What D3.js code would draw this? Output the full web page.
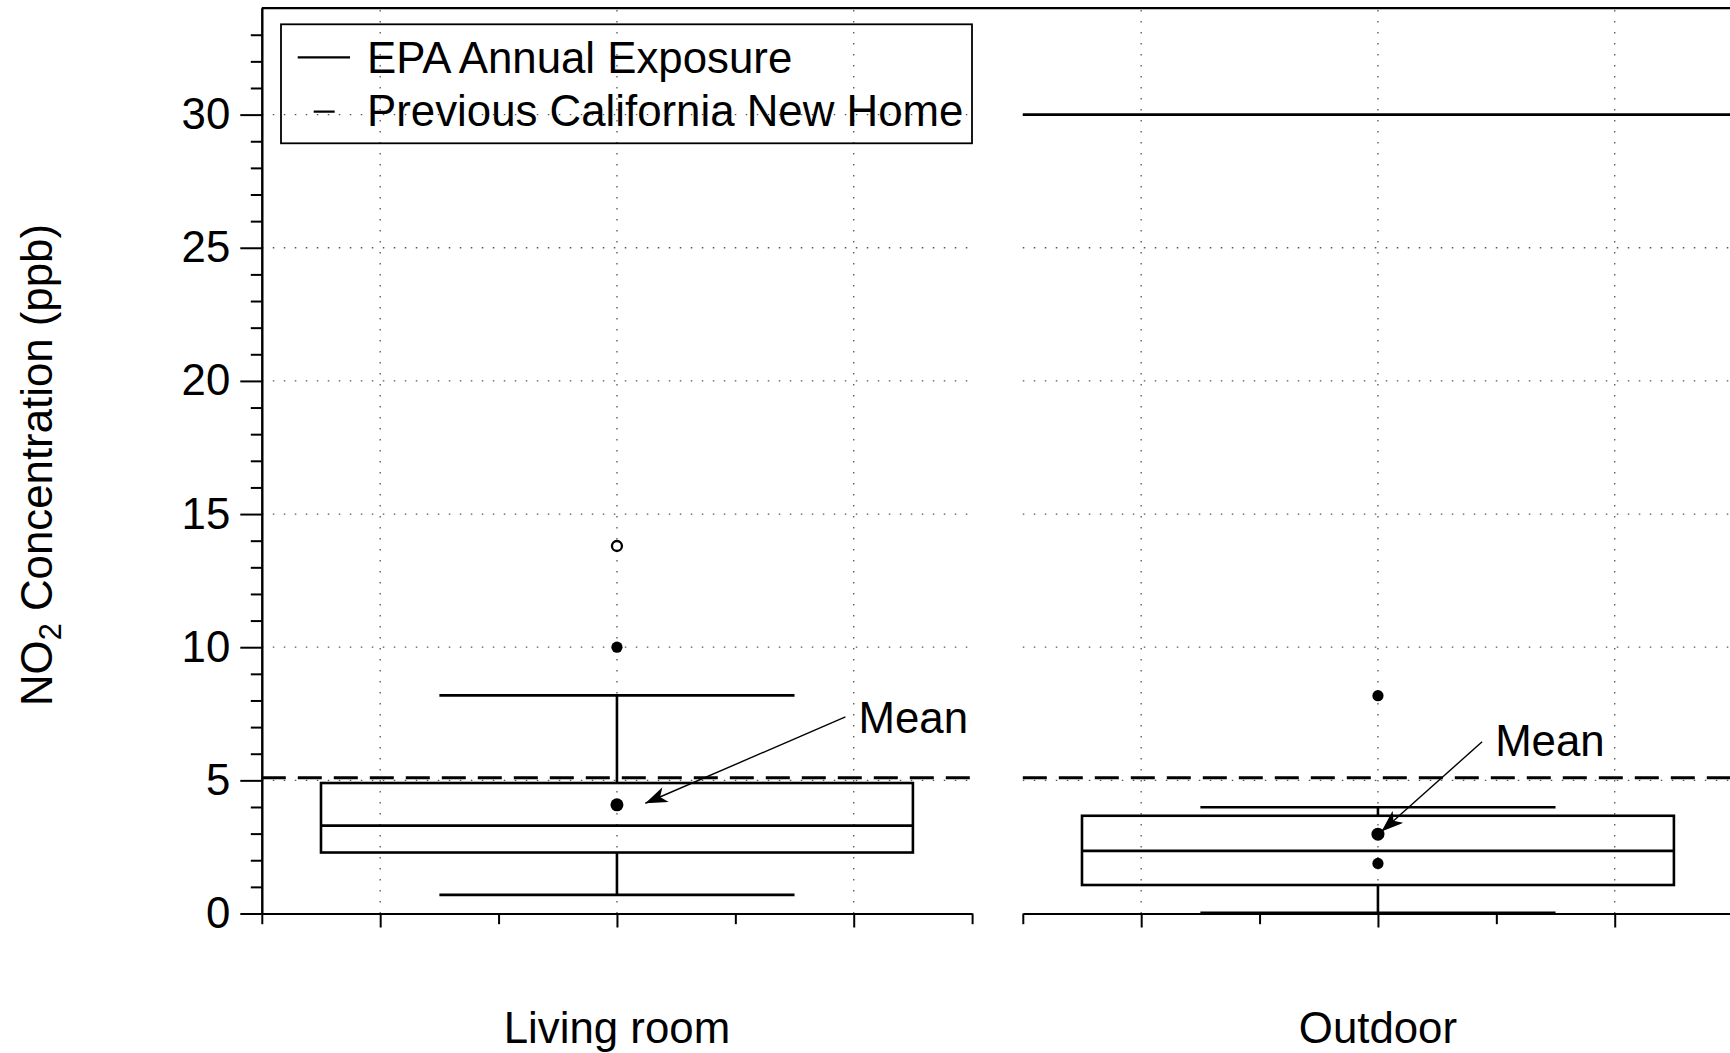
<!DOCTYPE html>
<html>
<head>
<meta charset="utf-8">
<script src="https://cdn.jsdelivr.net/npm/d3@7"></script>
<style>
  html, body { margin: 0; padding: 0; background: #fff; }
  svg { display: block; }
  text { font-family: "Liberation Sans", Arial, Helvetica, sans-serif; fill: #000; }
</style>
</head>
<body>
<svg id="chart" width="1730" height="1053"></svg>
<script>
// ---------------- data ----------------
const categories   = ["Living room", "Outdoor"];
const q1           = [2.29, 1.07];
const medians      = [3.30, 2.35];
const q3           = [4.90, 3.67];
const whiskerLow   = [0.70, 0.03];
const whiskerHigh  = [8.19, 3.99];
const means        = [4.08, 2.98];
const filledPoints = [[0, 10.0], [1, 8.18], [1, 1.88]];   // [category index, value]
const openPoints   = [[0, 13.8]];
const epaAnnual    = 30;    // drawn in Outdoor panel
const caNewHome    = 5.1;
const yMajorTicks  = [0, 5, 10, 15, 20, 25, 30];
const yMinorTicks  = d3.range(0, 34).filter(v => v % 5 !== 0);
const legendLabels = ["EPA Annual Exposure", "Previous California New Home"];
const annotations  = [
  { cat: 0, label: "Mean", tx: 5.04, ty: 6.77, x1: 4.93, y1: 7.38, x2: 3.24, y2: 4.14 },
  { cat: 1, label: "Mean", tx: 3.99, ty: 5.91, x1: 3.88, y1: 6.45, x2: 3.03, y2: 3.08 }
];

// ---------------- layout ----------------
const svg = d3.select("#chart");
const FS = 43.8;
const panelLeft = [261.8, 1022.8];
const panelWidth = 710.3;
const y = d3.scaleLinear().domain([0, 34]).range([913.5, 8.1]);
const xs = panelLeft.map(l => d3.scaleLinear().domain([0, 6]).range([l, l + panelWidth]));

const gridColor = "#555";
const grid = svg.append("g");
xs.forEach(x => {
  grid.selectAll(null).data(yMajorTicks.filter(v => v > 0)).join("line")
    .attr("x1", x(0)).attr("x2", x(6))
    .attr("y1", d => y(d)).attr("y2", d => y(d))
    .attr("stroke", gridColor).attr("stroke-width", 1.3)
    .attr("stroke-dasharray", "1.5 9.5");
  grid.selectAll(null).data([1, 3, 5]).join("line")
    .attr("x1", d => x(d)).attr("x2", d => x(d))
    .attr("y1", y(0)).attr("y2", y(34))
    .attr("stroke", gridColor).attr("stroke-width", 1.3)
    .attr("stroke-dasharray", "1.5 9.5");
});

// reference lines
xs.forEach(x => {
  svg.append("line")
    .attr("x1", x(0)).attr("x2", x(6))
    .attr("y1", y(caNewHome)).attr("y2", y(caNewHome))
    .attr("stroke", "#000").attr("stroke-width", 3)
    .attr("stroke-dasharray", "24 12");
});
svg.append("line")
  .attr("x1", xs[1](0)).attr("x2", xs[1](6))
  .attr("y1", y(epaAnnual)).attr("y2", y(epaAnnual))
  .attr("stroke", "#000").attr("stroke-width", 2.6);

// top frame
svg.append("line")
  .attr("x1", panelLeft[0]).attr("x2", 1730)
  .attr("y1", y(34)).attr("y2", y(34))
  .attr("stroke", "#000").attr("stroke-width", 2.2);

// axes
function styleAxis(g) {
  g.selectAll("path.domain").attr("stroke", "#000").attr("stroke-width", 2);
  g.selectAll(".tick line").attr("stroke", "#000").attr("stroke-width", 2);
  g.selectAll("text").attr("font-size", FS).attr("font-family", "Liberation Sans, Arial, sans-serif").attr("fill", "#000");
}
const yAxisMinor = svg.append("g").attr("transform", `translate(${panelLeft[0]},0)`)
  .call(d3.axisLeft(y).tickValues(yMinorTicks).tickSize(11).tickSizeOuter(0).tickFormat(""));
styleAxis(yAxisMinor);
const yAxisMajor = svg.append("g").attr("transform", `translate(${panelLeft[0]},0)`)
  .call(d3.axisLeft(y).tickValues(yMajorTicks).tickSize(21.5).tickPadding(10).tickSizeOuter(0).tickFormat(d3.format("d")));
styleAxis(yAxisMajor);

xs.forEach(x => {
  const gMinor = svg.append("g").attr("transform", `translate(0,${y(0)})`)
    .call(d3.axisBottom(x).tickValues([0, 2, 4, 6]).tickSize(10.7).tickSizeOuter(0).tickFormat(""));
  styleAxis(gMinor);
  const gMajor = svg.append("g").attr("transform", `translate(0,${y(0)})`)
    .call(d3.axisBottom(x).tickValues([1, 3, 5]).tickSize(14).tickSizeOuter(0).tickFormat(""));
  styleAxis(gMajor);
  gMajor.select("path.domain").remove();
});

// boxplots
const boxW = 2.6;
categories.forEach((c, i) => {
  const x = xs[i];
  const g = svg.append("g").attr("stroke", "#000").attr("stroke-width", boxW).attr("fill", "none");
  g.append("line").attr("x1", x(3)).attr("x2", x(3)).attr("y1", y(q3[i])).attr("y2", y(whiskerHigh[i]));
  g.append("line").attr("x1", x(3)).attr("x2", x(3)).attr("y1", y(q1[i])).attr("y2", y(whiskerLow[i]));
  g.append("line").attr("x1", x(1.5)).attr("x2", x(4.5)).attr("y1", y(whiskerHigh[i])).attr("y2", y(whiskerHigh[i]));
  g.append("line").attr("x1", x(1.5)).attr("x2", x(4.5)).attr("y1", y(whiskerLow[i])).attr("y2", y(whiskerLow[i]));
  g.append("rect").attr("x", x(0.5)).attr("width", x(5.5) - x(0.5))
    .attr("y", y(q3[i])).attr("height", y(q1[i]) - y(q3[i])).attr("fill", "none");
  g.append("line").attr("x1", x(0.5)).attr("x2", x(5.5)).attr("y1", y(medians[i])).attr("y2", y(medians[i]));
  svg.append("circle").attr("cx", x(3)).attr("cy", y(means[i])).attr("r", 6.5).attr("fill", "#000");
  svg.append("text").attr("x", x(3)).attr("y", 1043).attr("text-anchor", "middle")
    .attr("font-size", FS).text(c);
});

svg.selectAll("circle.filled").data(filledPoints).join("circle").attr("class", "filled")
  .attr("cx", d => xs[d[0]](3)).attr("cy", d => y(d[1])).attr("r", 5.6).attr("fill", "#000");
svg.selectAll("circle.open").data(openPoints).join("circle").attr("class", "open")
  .attr("cx", d => xs[d[0]](3)).attr("cy", d => y(d[1])).attr("r", 5).attr("fill", "#fff")
  .attr("stroke", "#000").attr("stroke-width", 2.3);

// arrow marker
svg.append("defs").append("marker")
  .attr("id", "arrow").attr("viewBox", "0 0 22 16").attr("refX", 22).attr("refY", 8)
  .attr("markerWidth", 22).attr("markerHeight", 16).attr("markerUnits", "userSpaceOnUse")
  .attr("orient", "auto")
  .append("path").attr("d", "M0,0 L22,8 L0,16 L6,8 Z").attr("fill", "#000");

annotations.forEach(a => {
  const x = xs[a.cat];
  svg.append("line").attr("x1", x(a.x1)).attr("y1", y(a.y1)).attr("x2", x(a.x2)).attr("y2", y(a.y2))
    .attr("stroke", "#000").attr("stroke-width", 1.4).attr("marker-end", "url(#arrow)");
  svg.append("text").attr("x", x(a.tx)).attr("y", y(a.ty)).attr("font-size", FS).text(a.label);
});

// legend
const lg = svg.append("g");
lg.append("rect").attr("x", 281).attr("y", 24.3).attr("width", 972 - 281).attr("height", 143.3 - 24.3)
  .attr("fill", "none").attr("stroke", "#000").attr("stroke-width", 1.8);
lg.append("line").attr("x1", 297.7).attr("x2", 350).attr("y1", 57.3).attr("y2", 57.3)
  .attr("stroke", "#000").attr("stroke-width", 2.2);
lg.append("line").attr("x1", 297.7).attr("x2", 350).attr("y1", 111.7).attr("y2", 111.7)
  .attr("stroke", "#000").attr("stroke-width", 2.2).attr("stroke-dasharray", "0 16 21 30");
lg.selectAll("text").data(legendLabels).join("text")
  .attr("x", 367).attr("y", (d, i) => 73 + i * 53).attr("font-size", FS).text(d => d);

// y axis title
const t = svg.append("text").attr("transform", "translate(52,465) rotate(-90)")
  .attr("text-anchor", "middle").attr("font-size", FS);
t.append("tspan").text("NO");
t.append("tspan").attr("font-size", FS * 0.7).attr("dy", 9).text("2");
t.append("tspan").attr("dy", -9).text(" Concentration (ppb)");
</script>
</body>
</html>
